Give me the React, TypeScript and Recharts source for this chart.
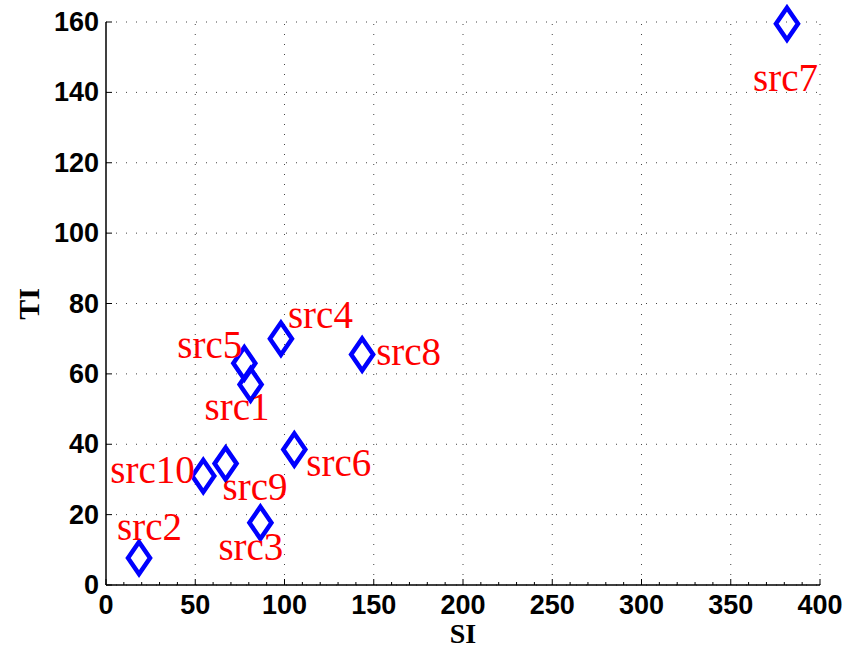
import React from 'react'
import { ScatterChart, Scatter, XAxis, YAxis, CartesianGrid, ReferenceLine } from 'recharts'

const names = ['src1', 'src2', 'src3', 'src4', 'src5', 'src6', 'src7', 'src8', 'src9', 'src10']
const siValues = [81, 18.5, 86.5, 98, 77.5, 105.5, 381.5, 143.5, 67, 54.5]
const tiValues = [57, 7.7, 17.7, 70, 63, 38.5, 159.5, 65.5, 34.5, 31]

const xTicks = [0, 50, 100, 150, 200, 250, 300, 350, 400]
const yTicks = [0, 20, 40, 60, 80, 100, 120, 140, 160]
const xMinorTicks = Array.from({ length: 41 }, (_, i) => i * 10)

// where each name sits relative to its marker (left edge / baseline)
const labelOffsets: Record<string, [number, number]> = {
  src1: [-46, 36],
  src2: [-22, -18],
  src3: [-42, 37],
  src4: [7, -11],
  src5: [-67, -5],
  src6: [12, 26],
  src7: [-34, 67],
  src8: [14, 10],
  src9: [-3, 36],
  src10: [-93, 7],
}

const data = names.map((name, i) => ({ name, si: siValues[i], ti: tiValues[i] }))

const sans = '"Liberation Sans", Arial, sans-serif'
const serif = '"Liberation Serif", "Times New Roman", serif'

const Diamond = (props: any) => {
  const { cx, cy, payload } = props
  const [dx, dy] = labelOffsets[payload.name] || [10, 0]
  return (
    <g>
      <path
        d={`M${cx},${cy - 16} L${cx + 11},${cy} L${cx},${cy + 16} L${cx - 11},${cy} Z`}
        fill="none"
        stroke="#0000ff"
        strokeWidth={4.5}
      />
      <text x={cx + dx} y={cy + dy} fill="#ff0000" fontFamily={serif} fontSize={39}>
        {payload.name}
      </text>
    </g>
  )
}

const XTick = (props: any) => {
  const { x, y, payload } = props
  const major = payload.value % 50 === 0
  return (
    <g>
      <line x1={x} y1={y} x2={x} y2={y - (major ? 6 : 3)} stroke="#000" strokeWidth={1} />
      {major && (
        <text x={x} y={y + 29} textAnchor="middle" fontFamily={sans} fontWeight="bold" fontSize={27} fill="#000">
          {payload.value}
        </text>
      )}
    </g>
  )
}

const YTick = (props: any) => {
  const { x, y, payload } = props
  return (
    <text x={x} y={y + 9} textAnchor="end" fontFamily={sans} fontWeight="bold" fontSize={27} fill="#000">
      {payload.value}
    </text>
  )
}

const TiLabel = () => (
  <text x={39} y={304} transform="rotate(-90 39 304)" textAnchor="middle" fontFamily={serif} fontWeight="bold" fontSize={30} fill="#000">
    TI
  </text>
)

const SiLabel = () => (
  <text x={463} y={643} textAnchor="middle" fontFamily={serif} fontWeight="bold" fontSize={28} fill="#000">
    SI
  </text>
)

export default function App() {
  return (
    <div style={{ position: 'absolute', left: 0, top: 0, background: '#fff' }}>
      <ScatterChart width={852} height={649} margin={{ top: 22, right: 32, left: 0, bottom: 0 }}>
        <CartesianGrid vertical={false} stroke="#444" strokeDasharray="1 9" />
        {xTicks.slice(1).map((v) => (
          <ReferenceLine key={v} x={v} stroke="#444" strokeDasharray="1 9" />
        ))}
        <XAxis
          type="number"
          dataKey="si"
          domain={[0, 400]}
          ticks={xMinorTicks}
          interval={0}
          height={64}
          tickLine={false}
          tickSize={0}
          tickMargin={0}
          tick={<XTick />}
          axisLine={{ stroke: '#000', strokeWidth: 1.5 }}
          label={<SiLabel />}
        />
        <YAxis
          type="number"
          dataKey="ti"
          domain={[0, 160]}
          ticks={yTicks}
          interval={0}
          width={106}
          tickSize={-6}
          tickMargin={13}
          tick={<YTick />}
          tickLine={{ stroke: '#000' }}
          axisLine={{ stroke: '#000', strokeWidth: 1.5 }}
          label={<TiLabel />}
        />
        <Scatter data={data} shape={<Diamond />} isAnimationActive={false} />
      </ScatterChart>
    </div>
  )
}
